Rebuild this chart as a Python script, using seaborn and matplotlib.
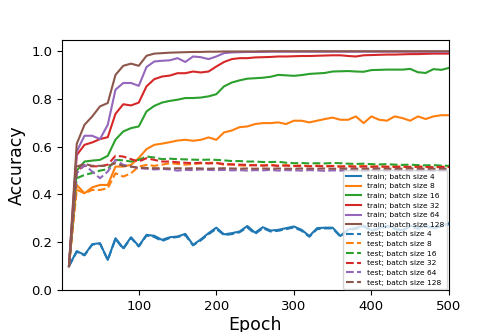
import numpy as np
import pandas as pd
import matplotlib
matplotlib.use("Agg")
import matplotlib.pyplot as plt
import seaborn as sns

# data (every 10 epochs)
epochs = list(range(10, 501, 10))
batch_sizes = [4, 8, 16, 32, 64, 128]
colors = ["#1f77b4", "#ff7f0e", "#2ca02c", "#d62728", "#9467bd", "#8c564b"]

train_4 = [0.10, 0.163, 0.147, 0.192, 0.196, 0.126, 0.217, 0.175, 0.221, 0.184,
           0.231, 0.227, 0.210, 0.221, 0.224, 0.235, 0.189, 0.212, 0.238, 0.261,
           0.233, 0.238, 0.245, 0.268, 0.240, 0.263, 0.249, 0.252, 0.259, 0.266,
           0.252, 0.226, 0.259, 0.261, 0.261, 0.226, 0.254, 0.260, 0.270, 0.250,
           0.260, 0.270, 0.260, 0.250, 0.270, 0.260, 0.270, 0.260, 0.270, 0.280]
train_8 = [0.10, 0.440, 0.405, 0.430, 0.440, 0.440, 0.517, 0.517, 0.524, 0.553,
           0.590, 0.608, 0.613, 0.619, 0.626, 0.629, 0.625, 0.629, 0.639, 0.629,
           0.660, 0.668, 0.682, 0.685, 0.695, 0.699, 0.699, 0.702, 0.695, 0.709,
           0.709, 0.702, 0.709, 0.716, 0.722, 0.713, 0.713, 0.727, 0.699, 0.727,
           0.713, 0.709, 0.727, 0.720, 0.709, 0.727, 0.716, 0.727, 0.732, 0.732]
train_16 = [0.10, 0.500, 0.538, 0.542, 0.545, 0.562, 0.630, 0.664, 0.678, 0.685,
            0.748, 0.771, 0.785, 0.792, 0.797, 0.804, 0.804, 0.806, 0.811, 0.820,
            0.853, 0.869, 0.878, 0.885, 0.887, 0.889, 0.893, 0.901, 0.899, 0.897,
            0.900, 0.905, 0.907, 0.909, 0.915, 0.916, 0.917, 0.915, 0.914, 0.921,
            0.922, 0.923, 0.923, 0.923, 0.926, 0.912, 0.909, 0.925, 0.922, 0.930]
train_32 = [0.10, 0.565, 0.608, 0.618, 0.632, 0.640, 0.738, 0.778, 0.773, 0.785,
            0.853, 0.883, 0.894, 0.898, 0.908, 0.908, 0.915, 0.911, 0.915, 0.936,
            0.955, 0.967, 0.971, 0.971, 0.974, 0.975, 0.976, 0.978, 0.978, 0.979,
            0.980, 0.980, 0.981, 0.982, 0.983, 0.983, 0.980, 0.978, 0.983, 0.984,
            0.985, 0.986, 0.986, 0.987, 0.988, 0.988, 0.989, 0.990, 0.990, 0.990]
train_64 = [0.10, 0.580, 0.646, 0.646, 0.632, 0.692, 0.839, 0.867, 0.867, 0.855,
            0.934, 0.957, 0.960, 0.962, 0.971, 0.955, 0.978, 0.975, 0.967, 0.978,
            0.992, 0.995, 0.996, 0.997, 0.997, 0.997, 0.998, 0.998, 0.998, 0.998,
            0.998, 0.998, 0.998, 0.998, 0.998, 0.998, 0.998, 0.998, 0.998, 0.998,
            0.998, 0.998, 0.998, 0.998, 0.998, 0.998, 0.998, 0.998, 0.998, 0.998]
train_128 = [0.10, 0.612, 0.692, 0.727, 0.769, 0.783, 0.901, 0.939, 0.948, 0.939,
             0.981, 0.990, 0.992, 0.994, 0.995, 0.996, 0.997, 0.997, 0.998, 0.998,
             0.999, 0.999, 0.999, 0.999, 0.999, 1.0, 1.0, 1.0, 1.0, 1.0,
             1.0, 1.0, 1.0, 1.0, 1.0, 1.0, 1.0, 1.0, 1.0, 1.0,
             1.0, 1.0, 1.0, 1.0, 1.0, 1.0, 1.0, 1.0, 1.0, 1.0]

test_4 = [0.10, 0.160, 0.145, 0.190, 0.194, 0.126, 0.214, 0.172, 0.218, 0.182,
          0.228, 0.222, 0.205, 0.218, 0.222, 0.230, 0.187, 0.208, 0.234, 0.256,
          0.230, 0.234, 0.242, 0.262, 0.235, 0.259, 0.245, 0.248, 0.255, 0.262,
          0.248, 0.223, 0.255, 0.258, 0.258, 0.224, 0.250, 0.256, 0.266, 0.247,
          0.256, 0.266, 0.256, 0.247, 0.266, 0.256, 0.266, 0.256, 0.266, 0.276]
test_8 = [0.10, 0.420, 0.405, 0.419, 0.419, 0.426, 0.489, 0.475, 0.489, 0.517,
          0.524, 0.520, 0.525, 0.531, 0.528, 0.525, 0.528, 0.530, 0.532, 0.534,
          0.524, 0.526, 0.522, 0.520, 0.524, 0.522, 0.525, 0.520, 0.523, 0.520,
          0.522, 0.519, 0.521, 0.518, 0.520, 0.517, 0.519, 0.518, 0.520, 0.517,
          0.518, 0.516, 0.518, 0.517, 0.516, 0.518, 0.516, 0.515, 0.517, 0.515]
test_16 = [0.10, 0.468, 0.482, 0.490, 0.500, 0.506, 0.545, 0.543, 0.538, 0.545,
           0.559, 0.555, 0.548, 0.550, 0.548, 0.547, 0.546, 0.545, 0.546, 0.545,
           0.543, 0.540, 0.540, 0.538, 0.538, 0.536, 0.536, 0.537, 0.533, 0.531,
           0.532, 0.530, 0.531, 0.530, 0.532, 0.531, 0.529, 0.528, 0.529, 0.527,
           0.526, 0.527, 0.525, 0.524, 0.525, 0.523, 0.522, 0.523, 0.521, 0.520]
test_32 = [0.10, 0.500, 0.520, 0.518, 0.518, 0.525, 0.562, 0.559, 0.548, 0.538,
           0.552, 0.545, 0.538, 0.538, 0.535, 0.533, 0.531, 0.533, 0.530, 0.531,
           0.528, 0.526, 0.525, 0.524, 0.522, 0.521, 0.522, 0.520, 0.521, 0.519,
           0.520, 0.518, 0.519, 0.518, 0.519, 0.517, 0.518, 0.516, 0.517, 0.516,
           0.517, 0.516, 0.515, 0.516, 0.515, 0.516, 0.515, 0.514, 0.515, 0.515]
test_64 = [0.10, 0.489, 0.524, 0.496, 0.468, 0.496, 0.545, 0.524, 0.517, 0.510,
           0.508, 0.505, 0.507, 0.505, 0.500, 0.503, 0.502, 0.505, 0.503, 0.502,
           0.503, 0.501, 0.502, 0.500, 0.502, 0.501, 0.503, 0.500, 0.502, 0.501,
           0.500, 0.502, 0.501, 0.499, 0.501, 0.500, 0.502, 0.500, 0.499, 0.501,
           0.500, 0.499, 0.501, 0.500, 0.499, 0.500, 0.501, 0.499, 0.500, 0.500]
test_128 = [0.10, 0.517, 0.528, 0.520, 0.520, 0.520, 0.531, 0.520, 0.517, 0.512,
            0.511, 0.510, 0.510, 0.509, 0.510, 0.509, 0.510, 0.509, 0.508, 0.509,
            0.510, 0.509, 0.508, 0.509, 0.508, 0.509, 0.508, 0.509, 0.508, 0.508,
            0.509, 0.508, 0.508, 0.509, 0.508, 0.508, 0.509, 0.508, 0.508, 0.508,
            0.509, 0.508, 0.508, 0.508, 0.509, 0.508, 0.508, 0.508, 0.508, 0.508]

train = [train_4, train_8, train_16, train_32, train_64, train_128]
test = [test_4, test_8, test_16, test_32, test_64, test_128]

fig = plt.figure(figsize=(4.98, 3.32), dpi=100)
ax = fig.add_axes([0.1245, 0.1265, 0.777, 0.753])

# train curves solid, test curves dashed
for bs, col, vals in zip(batch_sizes, colors, train):
    sns.lineplot(x=epochs, y=vals, ax=ax, color=col, lw=1.5,
                 label=f"train; batch size {bs}")
for bs, col, vals in zip(batch_sizes, colors, test):
    sns.lineplot(x=epochs, y=vals, ax=ax, color=col, lw=1.5, ls="--",
                 label=f"test; batch size {bs}")

ax.set_xlim(1, 500)
ax.set_ylim(0, 1.047)
ax.set_xticks([100, 200, 300, 400, 500])
ax.set_yticks([0.0, 0.2, 0.4, 0.6, 0.8, 1.0])
ax.tick_params(labelsize=9.5)
ax.set_xlabel("Epoch", fontsize=12.5, labelpad=2)
ax.set_ylabel("Accuracy", fontsize=12.5)
ax.legend(loc="lower right", fontsize=5.4, borderaxespad=0.2,
          labelspacing=0.45, handlelength=2.0)

fig.savefig("out.png", dpi=100)
